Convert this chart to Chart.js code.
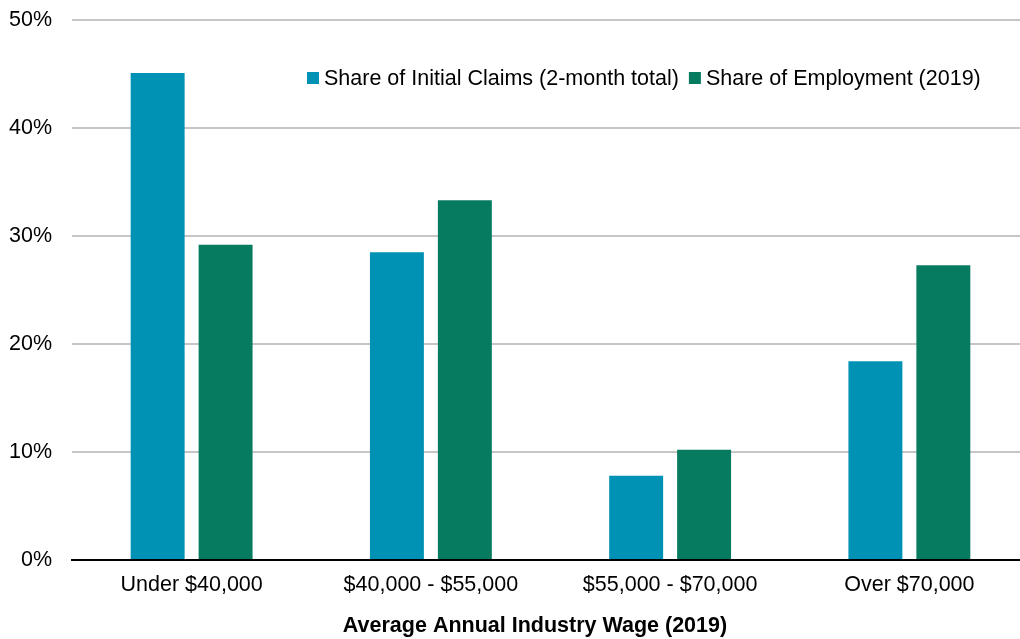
<!DOCTYPE html>
<html>
<head>
<meta charset="utf-8">
<script src="https://cdn.jsdelivr.net/npm/chart.js@4.4.1/dist/chart.umd.min.js"></script>
<style>
html,body{margin:0;padding:0;background:#fff;overflow:hidden;}
#wrap{width:1040px;height:639px;position:relative;}
</style>
</head>
<body>
<div id="wrap"><canvas id="c" width="1040" height="639"></canvas></div>
<script>
const categories = ["Under $40,000", "$40,000 - $55,000", "$55,000 - $70,000", "Over $70,000"];
const initialClaims = [45.1, 28.5, 7.8, 18.4];
const employment = [29.2, 33.3, 10.2, 27.3];
const yTicks = [0, 10, 20, 30, 40, 50];
const seriesNames = ["Share of Initial Claims (2-month total)", "Share of Employment (2019)"];
const xTitle = "Average Annual Industry Wage (2019)";

const FONT = "'Liberation Sans', Arial, sans-serif";
const FS = 21.5;

const textPlugin = {
  id: 'customText',
  afterDraw(chart) {
    const ctx = chart.ctx;
    ctx.save();
    ctx.font = FS + "px " + FONT;
    ctx.textBaseline = 'middle';
    let x = 307;
    const y = 78;
    chart.data.datasets.forEach((ds, i) => {
      ctx.fillStyle = ds.backgroundColor;
      ctx.fillRect(x, y - 6, 12, 12);
      x += 17;
      ctx.fillStyle = '#000';
      ctx.fillText(ds.label, x, y + 1);
      x += ctx.measureText(ds.label).width + 10;
    });
    ctx.font = "bold " + FS + "px " + FONT;
    ctx.textAlign = 'center';
    ctx.textBaseline = 'alphabetic';
    ctx.fillText(xTitle, 535, 632);
    ctx.restore();
  }
};

new Chart(document.getElementById('c'), {
  type: 'bar',
  data: {
    labels: categories,
    datasets: [
      { label: seriesNames[0], data: initialClaims, backgroundColor: '#0092B4' },
      { label: seriesNames[1], data: employment, backgroundColor: '#067B60' }
    ]
  },
  options: {
    responsive: false,
    animation: false,
    devicePixelRatio: 1,
    layout: { padding: { top: 20, right: 11, bottom: 0, left: 0 } },
    datasets: { bar: { categoryPercentage: 0.568, barPercentage: 0.794 } },
    plugins: { legend: { display: false }, tooltip: { enabled: false } },
    scales: {
      x: {
        grid: { display: false, drawTicks: false },
        border: { display: true, color: '#000', width: 2 },
        ticks: { color: '#000', font: { family: FONT, size: FS }, padding: 12, maxRotation: 0 },
        afterFit(s) { s.height = 79; s.paddingLeft = 0; s.paddingRight = 0; }
      },
      y: {
        min: 0, max: 50,
        afterBuildTicks(s) { s.ticks = yTicks.map(v => ({ value: v })); },
        grid: { color: '#C6C6C6', lineWidth: 2, drawTicks: false },
        border: { display: false },
        ticks: { color: '#000', font: { family: FONT, size: FS }, padding: 20, callback: v => v + '%' },
        afterFit(s) { s.width = 72; s.paddingTop = 0; s.paddingBottom = 0; }
      }
    }
  },
  plugins: [textPlugin]
});
</script>
</body>
</html>
